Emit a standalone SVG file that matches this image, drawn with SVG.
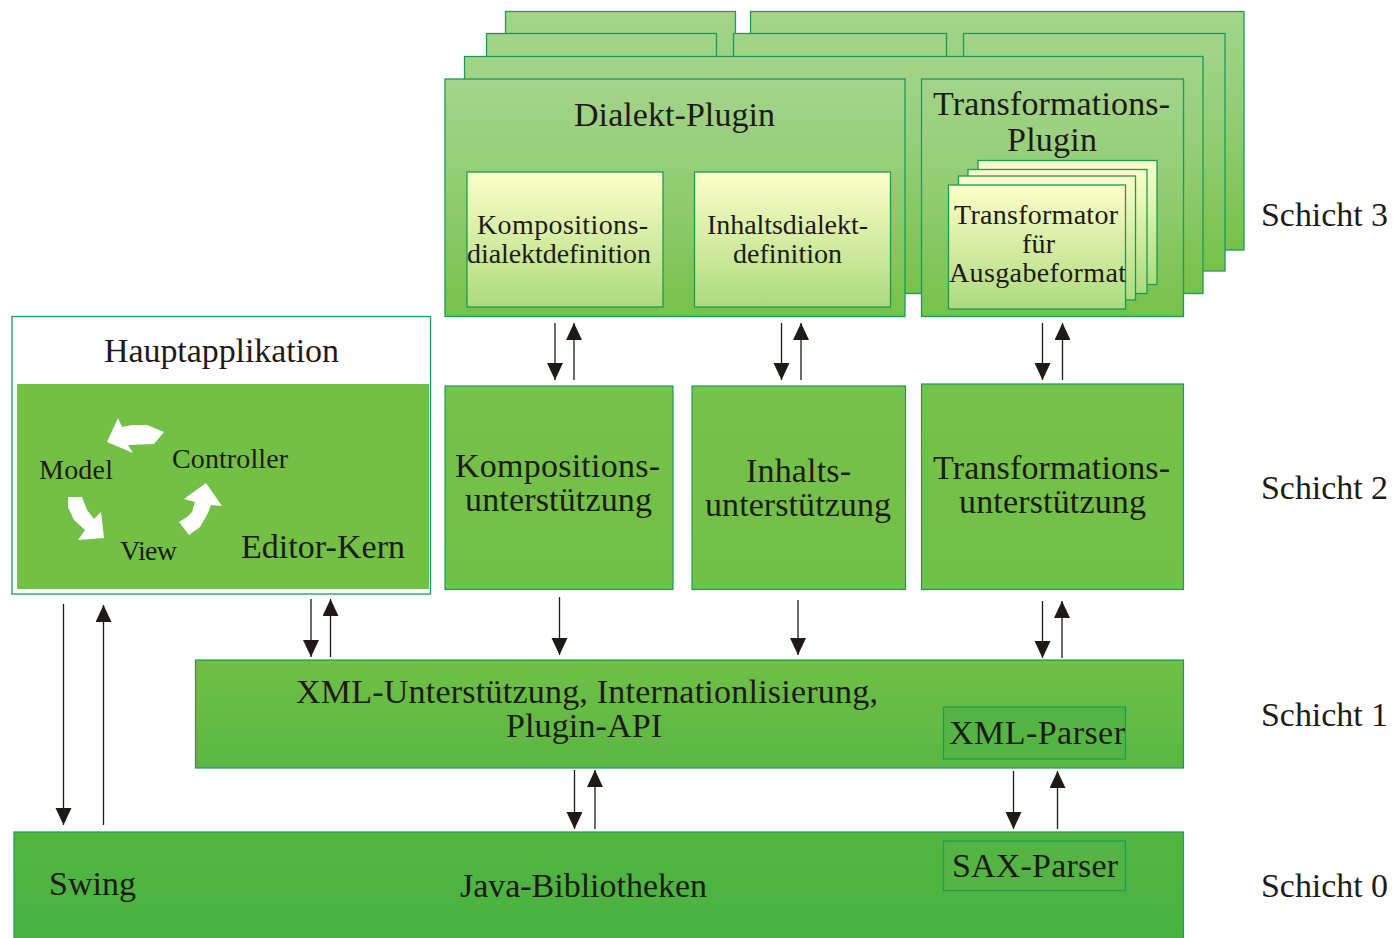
<svg xmlns="http://www.w3.org/2000/svg" width="1393" height="938" viewBox="0 0 1393 938">
<style>
text{font-family:"Liberation Serif","Times New Roman",serif;fill:#1f1a17;font-size:34px;text-anchor:start}
.s{font-size:28px}
.p{fill:url(#plug);stroke:#1a9c58;stroke-width:1.3}
.y{fill:url(#yel);stroke:#1a9c58;stroke-width:1.3}
.l{fill:url(#low);stroke:#1a9c58;stroke-width:1.2}
.in{fill:#54b544;stroke:#1a9c58;stroke-width:1.2}
.c line{stroke:#1f1a17;stroke-width:1.3;fill:none;marker-end:url(#a)}
.w{fill:#fff}
</style>
<defs>
<linearGradient id="plug" x1="0" y1="0" x2="0" y2="1"><stop offset="0" stop-color="#a3d48a"/><stop offset=".35" stop-color="#96cf7a"/><stop offset="1" stop-color="#78c14a"/></linearGradient>
<linearGradient id="yel" x1="0" y1="0" x2="0" y2="1"><stop offset="0" stop-color="#fdfec8"/><stop offset="1" stop-color="#acdb7e"/></linearGradient>
<linearGradient id="low" gradientUnits="userSpaceOnUse" x1="0" y1="384" x2="0" y2="938"><stop offset="0" stop-color="#76c24a"/><stop offset=".5" stop-color="#6fbf46"/><stop offset=".7" stop-color="#59b743"/><stop offset="1" stop-color="#49b340"/></linearGradient>
<marker id="a" markerUnits="userSpaceOnUse" markerWidth="18" markerHeight="18" refX="17" refY="8" orient="auto"><path d="M0 0L17 8L0 16Z" fill="#1f1a17"/></marker>
</defs>
<g id="plugin-stack-back">
<rect class="p" x="505.500" y="11.500" width="230" height="240"/>
<rect class="p" x="750.500" y="11.500" width="493.500" height="238.500"/>
<rect class="p" x="486.500" y="33.500" width="230" height="240"/>
<rect class="p" x="733.500" y="33.500" width="213" height="240"/>
<rect class="p" x="963.500" y="33.500" width="261.500" height="237.500"/>
<rect class="p" x="464.500" y="56.500" width="738.500" height="237"/>
</g>
<g id="dialekt-plugin">
<rect class="p" x="445" y="79" width="460" height="237.500"/>
<text x="574" y="126" textLength="201">Dialekt-Plugin</text>
</g>
<g id="kompositionsdialektdefinition">
<rect class="y" x="467" y="172" width="196" height="135"/>
<text class="s" x="477" y="233.500" textLength="171">Kompositions-</text>
<text class="s" x="467" y="262.500" textLength="184">dialektdefinition</text>
</g>
<g id="inhaltsdialektdefinition">
<rect class="y" x="694.500" y="172" width="196" height="135"/>
<text class="s" x="707" y="233.500" textLength="161">Inhaltsdialekt-</text>
<text class="s" x="733" y="262.500" textLength="109">definition</text>
</g>
<g id="transformations-plugin">
<rect class="p" x="921.500" y="79" width="262" height="237.500"/>
<text x="933" y="115" textLength="237">Transformations-</text>
<text x="1007" y="151" textLength="90">Plugin</text>
</g>
<g id="transformator">
<rect class="y" x="978" y="160.500" width="179" height="124"/>
<rect class="y" x="968" y="169.500" width="179" height="124"/>
<rect class="y" x="958.500" y="176" width="177" height="124"/>
<rect class="y" x="948.500" y="185" width="177" height="124"/>
<text class="s" x="954" y="224" textLength="164">Transformator</text>
<text class="s" x="1022" y="253" textLength="33">für</text>
<text class="s" x="949" y="282" textLength="177">Ausgabeformat</text>
</g>
<g id="hauptapplikation">
<rect x="12" y="316.500" width="418.500" height="277.500" fill="#fff" stroke="#1a9c58" stroke-width="1.300"/>
<text x="104" y="362" textLength="235">Hauptapplikation</text>
<rect x="17" y="384" width="412" height="205" fill="#72c046"/>
<text class="s" x="39" y="479" textLength="74">Model</text>
<text class="s" x="172" y="468" textLength="116">Controller</text>
<text class="s" x="120" y="560" textLength="57">View</text>
<text x="241" y="558" textLength="164">Editor-Kern</text>
<polygon class="w" points="118,418 107,442 133,453 128,445 154,444 164,432 147,425 132,425 122,427"/>
<polygon class="w" points="68,497 82,497 87,510 94,519 101,512 104,538 78,540 85,530 74,520 68,507"/>
<polygon class="w" points="179,522 189,535 200,527 208,513 211,505 222,506 206,483 184,499 195,502 192,512 187,517"/>
</g>
<g id="kompositionsunterstuetzung">
<rect class="l" x="445" y="386" width="228" height="203.500"/>
<text x="455" y="477" textLength="205">Kompositions-</text>
<text x="465" y="511" textLength="187">unterstützung</text>
</g>
<g id="inhaltsunterstuetzung">
<rect class="l" x="692" y="386" width="213.500" height="203.500"/>
<text x="746" y="482" textLength="105">Inhalts-</text>
<text x="705" y="516" textLength="186">unterstützung</text>
</g>
<g id="transformationsunterstuetzung">
<rect class="l" x="921.500" y="384" width="262" height="205.500"/>
<text x="933" y="479" textLength="237">Transformations-</text>
<text x="959" y="513" textLength="187">unterstützung</text>
</g>
<g id="xml-unterstuetzung">
<rect class="l" x="195.500" y="660" width="988" height="108"/>
<text x="296" y="703" textLength="582">XML-Unterstützung, Internationlisierung,</text>
<text x="506" y="737" textLength="156">Plugin-API</text>
</g>
<g id="xml-parser">
<rect class="in" x="943.500" y="707" width="182" height="52"/>
<text x="949" y="744" textLength="176">XML-Parser</text>
</g>
<g id="java-bibliotheken">
<rect class="l" x="14" y="832" width="1169.500" height="110"/>
<text x="49" y="895" textLength="87">Swing</text>
<text x="460" y="897" textLength="247">Java-Bibliotheken</text>
</g>
<g id="sax-parser">
<rect class="in" x="943.500" y="841" width="182" height="49.500"/>
<text x="952" y="877" textLength="166">SAX-Parser</text>
</g>
<g id="connectors" class="c">
<line x1="555" y1="323" x2="555" y2="380"/>
<line x1="574" y1="380" x2="574" y2="323"/>
<line x1="781.500" y1="323" x2="781.500" y2="380"/>
<line x1="801" y1="380" x2="801" y2="323"/>
<line x1="1042.500" y1="323" x2="1042.500" y2="380"/>
<line x1="1062.500" y1="380" x2="1062.500" y2="323"/>
<line x1="559.500" y1="597" x2="559.500" y2="655"/>
<line x1="798" y1="600" x2="798" y2="655"/>
<line x1="1042.500" y1="601" x2="1042.500" y2="658"/>
<line x1="1062" y1="658" x2="1062" y2="601"/>
<line x1="311" y1="599" x2="311" y2="657"/>
<line x1="330.500" y1="657" x2="330.500" y2="599"/>
<line x1="63.500" y1="604" x2="63.500" y2="825"/>
<line x1="103.500" y1="825" x2="103.500" y2="605"/>
<line x1="574.500" y1="770" x2="574.500" y2="829"/>
<line x1="595" y1="829" x2="595" y2="770"/>
<line x1="1013.500" y1="771" x2="1013.500" y2="829"/>
<line x1="1057.500" y1="829" x2="1057.500" y2="771"/>
</g>
<g id="schichten">
<text x="1261" y="226" textLength="127">Schicht 3</text>
<text x="1261" y="499" textLength="127">Schicht 2</text>
<text x="1261" y="726" textLength="127">Schicht 1</text>
<text x="1261" y="897" textLength="127">Schicht 0</text>
</g>
</svg>
